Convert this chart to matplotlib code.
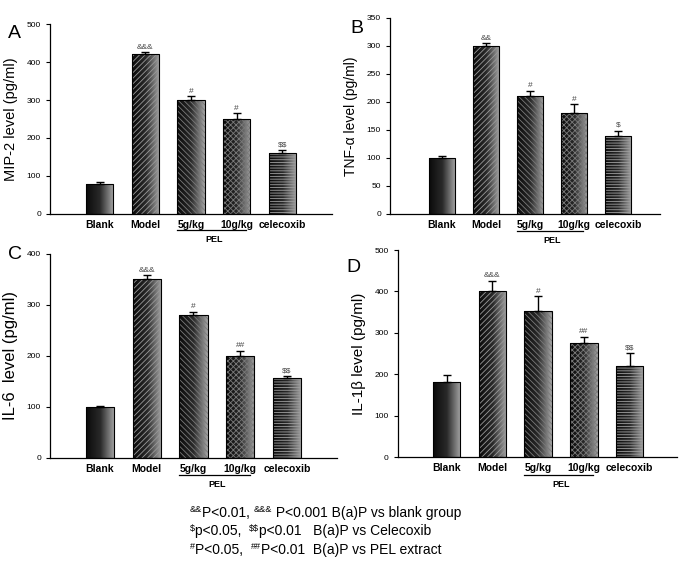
import numpy as np
import matplotlib
matplotlib.use("Agg")
import matplotlib.pyplot as plt
from matplotlib.colors import LinearSegmentedColormap

plt.rcParams['font.family'] = ['Liberation Sans', 'DejaVu Sans']
plt.rcParams['hatch.linewidth'] = 0.6

categories = ["Blank", "Model", "5g/kg", "10g/kg", "celecoxib"]

mip2_vals = [80, 420, 300, 250, 160]
mip2_err = [5, 6, 10, 15, 8]
mip2_sig = ["", "&&&", "#", "#", "$$"]

tnf_vals = [100, 300, 210, 180, 139]
tnf_err = [3, 5, 10, 16, 10]
tnf_sig = ["", "&&", "#", "#", "$"]

il6_vals = [100, 350, 280, 200, 157]
il6_err = [2, 8, 6, 10, 4]
il6_sig = ["", "&&&", "#", "##", "$$"]

il1b_vals = [180, 400, 353, 276, 220]
il1b_err = [18, 25, 35, 15, 32]
il1b_sig = ["", "&&&", "#", "##", "$$"]

panels = [
    dict(label="A", vals=mip2_vals, err=mip2_err, sig=mip2_sig, ylab="MIP-2 level (pg/ml)",
         ymax=500, step=100, pos=[0.0735, 0.6206, 0.4147, 0.3368], xlim=(-1.09, 5.09),
         lpos=(0.012, 0.955), ylfs=10.5),
    dict(label="B", vals=tnf_vals, err=tnf_err, sig=tnf_sig, ylab="TNF-α level (pg/ml)",
         ymax=350, step=50, pos=[0.5735, 0.6206, 0.397, 0.3475], xlim=(-1.18, 4.95),
         lpos=(0.515, 0.965), ylfs=10),
    dict(label="C", vals=il6_vals, err=il6_err, sig=il6_sig, ylab="IL-6  level (pg/ml)",
         ymax=400, step=100, pos=[0.0735, 0.188, 0.4221, 0.3617], xlim=(-1.07, 5.07),
         lpos=(0.012, 0.563), ylfs=12),
    dict(label="D", vals=il1b_vals, err=il1b_err, sig=il1b_sig, ylab="IL-1β level (pg/ml)",
         ymax=500, step=100, pos=[0.585, 0.1897, 0.41, 0.367], xlim=(-1.07, 5.03),
         lpos=(0.51, 0.54), ylfs=11),
]

styles = [
    dict(hatch=None, hc="#888888"),
    dict(hatch="//////", hc="#9a9a9a"),
    dict(hatch="\\\\\\\\\\\\", hc="#7a7a7a"),
    dict(hatch="xxxxxx", hc="#7a7a7a"),
    dict(hatch="------", hc="#a0a0a0"),
]

cmap = LinearSegmentedColormap.from_list("g", ["#0a0a0a", "#2a2a2a", "#a8a8a8"])

fig = plt.figure(figsize=(6.8, 5.64), dpi=100)
width = 0.6
x = np.arange(len(categories))

for p in panels:
    ax = fig.add_axes(p["pos"])
    for i, (v, e) in enumerate(zip(p["vals"], p["err"])):
        st = styles[i]
        bars = ax.bar(x[i], v, width, facecolor="none", edgecolor="none", zorder=1)
        bar = bars[0]
        im = ax.imshow(np.linspace(0, 1, 256).reshape(1, -1), cmap=cmap, aspect="auto",
                       extent=(x[i] - width / 2, x[i] + width / 2, 0, v), zorder=1.5)
        im.set_clip_path(bar)
        if st["hatch"]:
            ax.bar(x[i], v, width, facecolor="none", edgecolor=st["hc"], hatch=st["hatch"],
                   linewidth=0, zorder=2)
        ax.bar(x[i], v, width, facecolor="none", edgecolor="black", linewidth=0.8, zorder=3)
        ax.errorbar(x[i], v, yerr=[[0], [e]], fmt="none", ecolor="black", elinewidth=1.0,
                    capsize=3, capthick=1.0, zorder=4)
        if p["sig"][i]:
            ax.text(x[i], v + e + p["ymax"] * 0.008, p["sig"][i], ha="center", va="bottom",
                    fontsize=6, color="#444444", parse_math=False)
    ax.set_xlim(*p["xlim"])
    ax.set_ylim(0, p["ymax"])
    ax.set_yticks(np.arange(0, p["ymax"] + 1, p["step"]))
    ax.tick_params(axis="y", labelsize=6, length=3, width=0.8, direction="out")
    ax.set_xticks(x)
    ax.set_xticklabels(categories, fontsize=7.5, fontweight="bold")
    ax.tick_params(axis="x", length=0, pad=4)
    for s in ["top", "right"]:
        ax.spines[s].set_visible(False)
    ax.spines["left"].set_linewidth(0.9)
    ax.spines["bottom"].set_linewidth(0.9)
    ax.set_ylabel(p["ylab"], fontsize=p["ylfs"], labelpad=6)
    # PEL bracket
    ax.plot([x[2] - 0.3, x[3] + 0.2], [-0.085 * p["ymax"]] * 2, color="black", lw=0.9,
            clip_on=False)
    ax.text((x[2] + x[3]) / 2, -0.11 * p["ymax"], "PEL", ha="center", va="top",
            fontsize=6.5, fontweight="bold")
    fig.text(p["lpos"][0], p["lpos"][1], p["label"], fontsize=14, va="top", ha="left")

# legend footnote lines: list of (text, is_superscript)
legend_lines = [
    [("&&", True), ("P<0.01, ", False), ("&&&", True), (" P<0.001 B(a)P vs blank group", False)],
    [("$", True), ("p<0.05,  ", False), ("$$", True), ("p<0.01   B(a)P vs Celecoxib", False)],
    [("#", True), ("P<0.05,  ", False), ("##", True), ("P<0.01  B(a)P vs PEL extract", False)],
]
renderer = fig.canvas.get_renderer()
x0_px = 190
for k, pieces in enumerate(legend_lines):
    y_px = 564 - (517 + k * 18.5)
    cur = x0_px
    for txt, sup in pieces:
        t = fig.text(cur / 680, (y_px + (5 if sup else 0)) / 564, txt,
                     fontsize=6.5 if sup else 10, va="baseline", ha="left",
                     parse_math=False)
        bb = t.get_window_extent(renderer=renderer)
        cur += bb.width

fig.savefig("out.png", dpi=100)
